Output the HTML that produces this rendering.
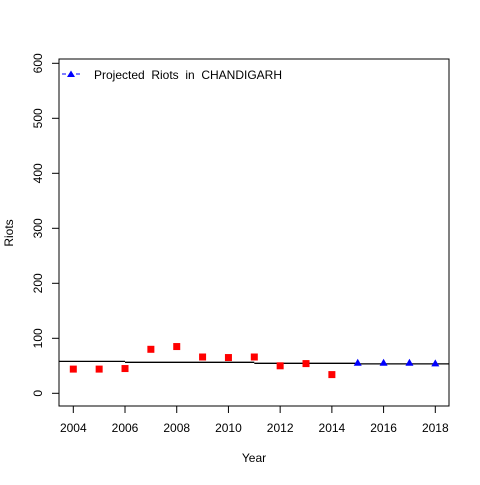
<!DOCTYPE html>
<html><head><meta charset="utf-8"><style>
body{margin:0;background:#fff}
svg text{font-family:"Liberation Sans",Arial,sans-serif;font-size:12px;fill:#000}
</style></head><body>
<svg id="chart" width="480" height="480">
<rect x="59" y="59" width="390" height="347" fill="none" stroke="#000"/>
<g id="g"></g>
<text x="254" y="462" text-anchor="middle">Year</text>
<text transform="translate(13,233) rotate(-90)" text-anchor="middle">Riots</text>
<g>
<line x1="62" y1="74" x2="80" y2="74" stroke="#0000ff" stroke-dasharray="4,3"/>
<polygon points="71,70.5 75,77 67,77" fill="#0000ff"/>
<text x="94" y="79" style="white-space:pre" textLength="188">Projected  Riots  in  CHANDIGARH</text>
</g>
</svg>
<script>
const actualYears=[2004,2005,2006,2007,2008,2009,2010,2011,2012,2013,2014];
const actualRiots=[44,44,45,80,85,66,65,66,50,54,34];
const projYears=[2015,2016,2017,2018];
const projRiots=[55.6,55.6,55.6,54.5];
const trendStarts=[2003.45,2006,2011,2015];
const trendEnds=[2006,2011,2015,2018.55];
const trendValues=[58,56.3,54.5,53.5];
const xTicks=[2004,2006,2008,2010,2012,2014,2016,2018];
const yTicks=[0,100,200,300,400,500,600];
const X=v=>73.3+(v-2004)*(435.3-73.3)/14;
const Y=v=>393.3-v*0.55;
const g=document.getElementById('g');
const NS='http://www.w3.org/2000/svg';
function mk(t,a){const e=document.createElementNS(NS,t);for(const k in a)e.setAttribute(k,a[k]);g.appendChild(e);return e;}
xTicks.forEach(t=>{
  const l=mk('line',{x1:X(t),x2:X(t),y1:406,y2:413,stroke:'#000'});
  
  
  const tx=mk('text',{x:X(t),y:432,'text-anchor':'middle'});tx.textContent=t;
  
  
});
yTicks.forEach(t=>{
  const l=mk('line',{x1:52,x2:59,y1:Y(t),y2:Y(t),stroke:'#000'});
  
  
  const tx=mk('text',{transform:`translate(42,${Y(t)}) rotate(-90)`,'text-anchor':'middle'});tx.textContent=t;
  
  
});
trendValues.forEach((v,i)=>{
  const l=mk('line',{x1:Math.max(59,X(trendStarts[i])),x2:Math.min(449,X(trendEnds[i])),y1:Y(v),y2:Y(v),stroke:'#000','stroke-width':1.3});
  
  
});
actualRiots.forEach((v,i)=>{
  const r=mk('rect',{x:X(actualYears[i])-3.5,y:Y(v)-3.5,width:7,height:7,fill:'#ff0000'});
  
  
});
projRiots.forEach((v,i)=>{
  const x=X(projYears[i]),y=Y(v);
  const p=mk('polygon',{points:`${x},${y-4} ${x+4},${y+3} ${x-4},${y+3}`,fill:'#0000ff'});
  
  
});
</script>
</body></html>
